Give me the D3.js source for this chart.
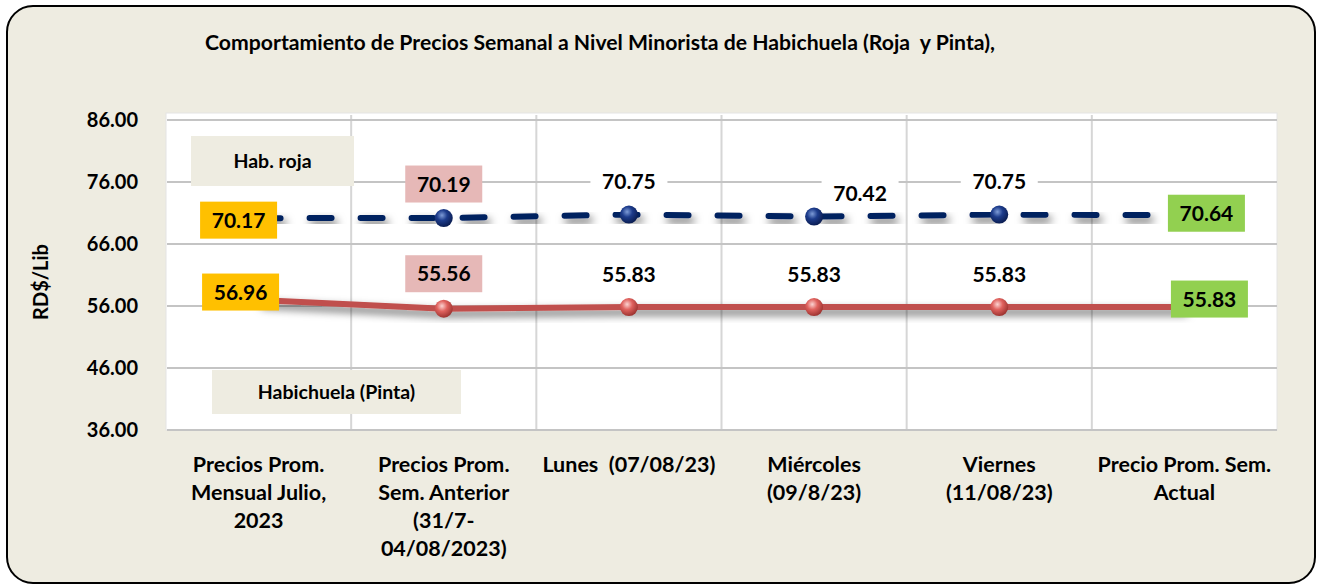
<!DOCTYPE html>
<meta charset="utf-8">
<style>
body { margin: 0; background: #fff; }
text { font-family: Lato, "Open Sans", sans-serif; font-weight: bold; fill: #000; }
.grid line { stroke: #c4c4c4; stroke-width: 2px; }
.vgrid line { stroke: #d6d6d6; stroke-width: 2px; }
</style>
<svg width="1318" height="586"></svg>
<script src="https://d3js.org/d3.v7.min.js"></script>
<script>

var svg = d3.select("svg");

// chart values
var categories = [
  ["Precios Prom.", "Mensual Julio,", "2023"],
  ["Precios Prom.", "Sem. Anterior", "(31/7-", "04/08/2023)"],
  ["Lunes  (07/08/23)"],
  ["Miércoles", "(09/8/23)"],
  ["Viernes", "(11/08/23)"],
  ["Precio Prom. Sem.", "Actual"]
];
var roja  = [70.17, 70.19, 70.75, 70.42, 70.75, 70.64];
var pinta = [56.96, 55.56, 55.83, 55.83, 55.83, 55.83];
var yTicks = [36, 46, 56, 66, 76, 86];

// label look (box colour per point, offset of the label from its point)
var labelFill = ["#ffc000", "#e6b8b7", "#fff", "#fff", "#fff", "#92d050"];
var rojaOffset  = [[-20, 2], [0, -34], [0, -33], [46, -23], [0, -33], [22, -2]];
var pintaOffset = [[-18, -8], [0, -35], [0, -33], [0, -33], [0, -33], [25, -8]];

var plotLeft = 166, plotRight = 1277, plotTop = 113, plotBottom = 430;

var x = d3.scaleBand()
    .domain(d3.range(categories.length))
    .range([plotLeft, plotRight]);

var y = d3.scaleLinear()
    .domain([36, 86])
    .range([plotBottom, 120]);

var defs = svg.append("defs");

var shadow = defs.append("filter")
    .attr("id", "shadow")
    .attr("x", "-10%").attr("y", "-60%")
    .attr("width", "130%").attr("height", "320%");
shadow.append("feDropShadow")
    .attr("dx", 3).attr("dy", 5)
    .attr("stdDeviation", 4)
    .attr("flood-color", "#000")
    .attr("flood-opacity", 0.6);

function ball(id, c0, c1, c2) {
  var g = defs.append("radialGradient")
      .attr("id", id)
      .attr("cx", "40%").attr("cy", "35%").attr("r", "65%");
  g.append("stop").attr("offset", "0%").attr("stop-color", c0);
  g.append("stop").attr("offset", "45%").attr("stop-color", c1);
  g.append("stop").attr("offset", "100%").attr("stop-color", c2);
}
ball("ballBlue", "#7d9bd6", "#1d3c8c", "#0a1d52");
ball("ballRed", "#fbd3d1", "#e0625e", "#9e3431");

// frame
svg.append("rect")
    .attr("x", 7).attr("y", 6)
    .attr("width", 1308).attr("height", 577)
    .attr("rx", 26)
    .attr("fill", "#eeece1")
    .attr("stroke", "#000")
    .attr("stroke-width", 2);

svg.append("text")
    .attr("x", 600)
    .attr("y", 50)
    .attr("text-anchor", "middle")
    .style("font-size", "21.2px")
    .style("white-space", "pre")
    .text("Comportamiento de Precios Semanal a Nivel Minorista de Habichuela (Roja  y Pinta),");

// plot area
svg.append("rect")
    .attr("x", plotLeft).attr("y", plotTop)
    .attr("width", plotRight - plotLeft).attr("height", plotBottom - plotTop)
    .attr("fill", "#fff")
    .attr("stroke", "#e4e4e4");

svg.append("g")
    .attr("class", "vgrid")
  .selectAll("line")
  .data(d3.range(1, categories.length))
  .enter().append("line")
    .attr("x1", function(d) { return x(d); })
    .attr("x2", function(d) { return x(d); })
    .attr("y1", 115)
    .attr("y2", plotBottom);

svg.append("g")
    .attr("class", "grid")
  .selectAll("line")
  .data(yTicks)
  .enter().append("line")
    .attr("x1", plotLeft + 1)
    .attr("x2", plotRight)
    .attr("y1", function(d) { return y(d); })
    .attr("y2", function(d) { return y(d); });

// y axis
var yAxis = svg.append("g")
    .attr("transform", "translate(" + (plotLeft - 28) + ",0)")
    .call(d3.axisLeft(y).tickValues(yTicks).tickFormat(d3.format(".2f")).tickSize(0).tickPadding(0));
yAxis.select(".domain").remove();
yAxis.selectAll("text")
    .style("font-size", "20px")
    .attr("font-family", null);

svg.append("text")
    .attr("transform", "translate(48,282) rotate(-90)")
    .attr("text-anchor", "middle")
    .style("font-size", "20px")
    .text("RD$/Lib");

// x labels
var xl = svg.append("g").selectAll("text")
    .data(categories)
  .enter().append("text")
    .attr("x", function(d, i) { return x(i) + x.bandwidth() / 2; })
    .attr("y", 472)
    .attr("text-anchor", "middle")
    .style("font-size", "21.5px")
    .style("white-space", "pre");
xl.selectAll("tspan")
    .data(function(d) { return d; })
  .enter().append("tspan")
    .attr("x", function() { return this.parentNode.getAttribute("x"); })
    .attr("dy", function(d, i) { return i ? 28 : 0; })
    .text(function(d) { return d; });

// legend boxes
function legendBox(x0, y0, w, h, label) {
  svg.append("rect")
      .attr("x", x0).attr("y", y0)
      .attr("width", w).attr("height", h)
      .attr("fill", "#eeece1");
  svg.append("text")
      .attr("x", x0 + w / 2)
      .attr("y", y0 + h / 2 + 7)
      .attr("text-anchor", "middle")
      .style("font-size", "19.5px")
      .text(label);
}

// lines
var line = d3.line()
    .x(function(d, i) { return x(i) + x.bandwidth() / 2; })
    .y(function(d) { return y(d); });

svg.append("path")
    .datum(pinta)
    .attr("d", line)
    .attr("fill", "none")
    .attr("stroke", "#c0504d")
    .attr("stroke-width", 6)
    .attr("filter", "url(#shadow)");

svg.append("path")
    .datum(roja)
    .attr("d", line)
    .attr("fill", "none")
    .attr("stroke", "#002060")
    .attr("stroke-width", 6)
    .attr("stroke-linecap", "round")
    .attr("stroke-dasharray", "22,29")
    .attr("filter", "url(#shadow)");

function markers(data, grad) {
  svg.append("g").selectAll("circle")
      .data(data)
    .enter().append("circle")
      .attr("cx", function(d, i) { return x(i) + x.bandwidth() / 2; })
      .attr("cy", function(d) { return y(d); })
      .attr("r", 9)
      .attr("fill", "url(#" + grad + ")");
}
markers(pinta, "ballRed");
markers(roja, "ballBlue");

legendBox(191, 136, 163, 50, "Hab. roja");
legendBox(212, 370, 249, 44, "Habichuela (Pinta)");

function labels(data, offsets) {
  var g = svg.append("g").selectAll("g")
      .data(data)
    .enter().append("g")
      .attr("transform", function(d, i) {
        return "translate(" + (x(i) + x.bandwidth() / 2 + offsets[i][0]) + "," + (y(d) + offsets[i][1]) + ")";
      });
  g.append("rect")
      .attr("x", -38.5).attr("y", -18.5)
      .attr("width", 77).attr("height", 37)
      .attr("fill", function(d, i) { return labelFill[i]; });
  g.append("text")
      .attr("text-anchor", "middle")
      .attr("y", 7.5)
      .style("font-size", "21px")
      .text(function(d) { return d3.format(".2f")(d); });
}
labels(roja, rojaOffset);
labels(pinta, pintaOffset);

</script>
